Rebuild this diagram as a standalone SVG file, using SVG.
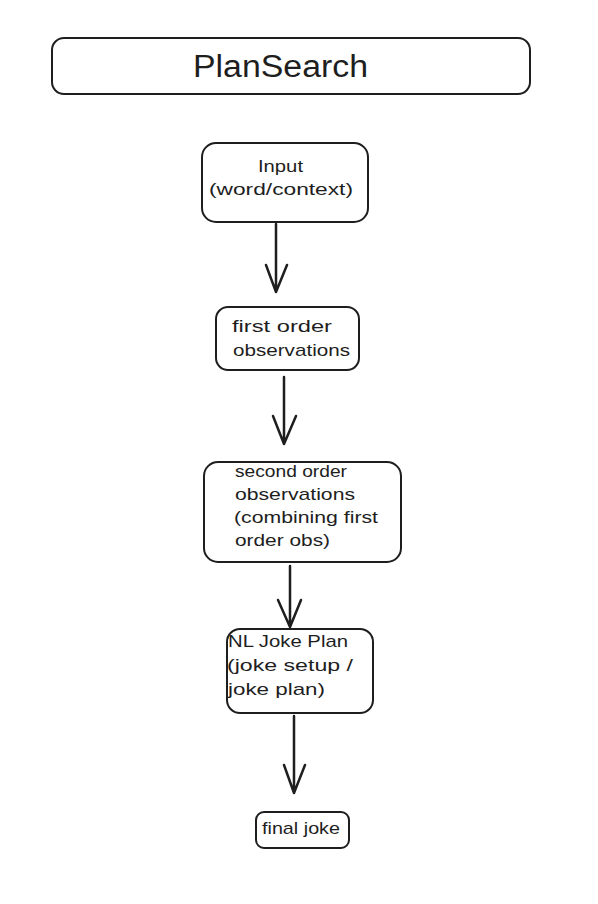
<svg xmlns="http://www.w3.org/2000/svg" width="598" height="904" viewBox="0 0 598 904">
<style>
.box{fill:#ffffff;stroke:#1e1e1e;stroke-width:2;}
.t{font-family:"Liberation Sans","DejaVu Sans",sans-serif;font-size:17px;fill:#1e1e1e;}
.title{font-family:"Liberation Sans","DejaVu Sans",sans-serif;font-size:31px;fill:#1e1e1e;}
.conn{fill:none;stroke:#1e1e1e;stroke-width:2.5;stroke-linecap:round;stroke-linejoin:round;}
</style>
<rect width="598" height="904" fill="#ffffff"/>
<g id="title">
<rect class="box" x="52" y="38" width="478" height="56" rx="12"/>
<text class="title" x="193" y="77" textLength="175" lengthAdjust="spacingAndGlyphs">PlanSearch</text>
</g>
<g id="input">
<rect class="box" x="202" y="143" width="166" height="79" rx="14"/>
<text class="t" x="258" y="172" textLength="45" lengthAdjust="spacingAndGlyphs">Input</text>
<text class="t" x="209" y="195" textLength="144" lengthAdjust="spacingAndGlyphs">(word/context)</text>
</g>
<g id="first-order">
<rect class="box" x="216" y="307" width="143" height="63" rx="12"/>
<text class="t" x="232" y="332" textLength="100" lengthAdjust="spacingAndGlyphs">first order</text>
<text class="t" x="233" y="356" textLength="117" lengthAdjust="spacingAndGlyphs">observations</text>
</g>
<g id="second-order">
<rect class="box" x="204" y="462" width="197" height="100" rx="14"/>
<text class="t" x="235" y="477" textLength="112" lengthAdjust="spacingAndGlyphs">second order</text>
<text class="t" x="235" y="500" textLength="120" lengthAdjust="spacingAndGlyphs">observations</text>
<text class="t" x="234" y="523" textLength="144" lengthAdjust="spacingAndGlyphs">(combining first</text>
<text class="t" x="235" y="546" textLength="95" lengthAdjust="spacingAndGlyphs">order obs)</text>
</g>
<g id="joke-plan">
<rect class="box" x="227" y="629" width="146" height="84" rx="13"/>
<text class="t" x="228" y="647" textLength="120" lengthAdjust="spacingAndGlyphs">NL Joke Plan</text>
<text class="t" x="227" y="671" textLength="126" lengthAdjust="spacingAndGlyphs">(joke setup /</text>
<text class="t" x="228" y="695" textLength="97" lengthAdjust="spacingAndGlyphs">joke plan)</text>
</g>
<g id="final-joke">
<rect class="box" x="256" y="812" width="93" height="36" rx="8"/>
<text class="t" x="262" y="834" textLength="78" lengthAdjust="spacingAndGlyphs">final joke</text>
</g>
<g id="connectors">
<path class="conn" d="M276 224 L276 292 M266 265 L276 292 L287 265"/>
<path class="conn" d="M284 377 L284 444 M273 416 L284 444 L296 416"/>
<path class="conn" d="M290 566 L290 627 M278 600 L290 627 L301 600"/>
<path class="conn" d="M294 716 L294 793 M284 765 L294 793 L305 765"/>
</g>
</svg>
